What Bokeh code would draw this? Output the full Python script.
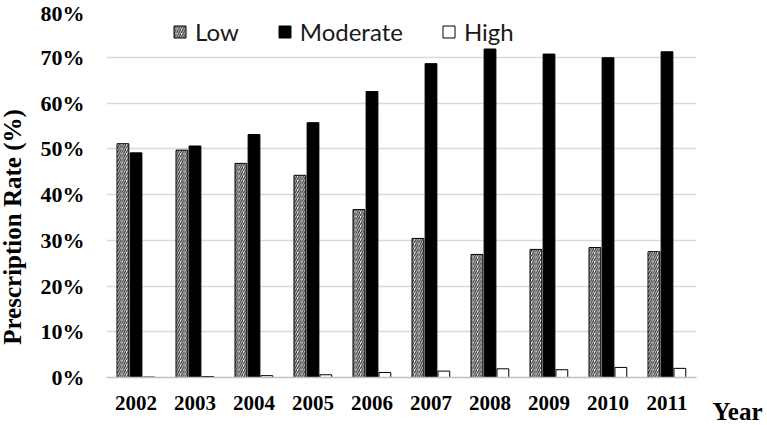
from bokeh.plotting import figure
from bokeh.models import (ColumnDataSource, FactorRange, Legend, LegendItem, Label,
                          PrintfTickFormatter, FixedTicker)
from bokeh.transform import dodge
from bokeh.embed import file_html
from bokeh.resources import INLINE
import math

years = ["2002", "2003", "2004", "2005", "2006", "2007", "2008", "2009", "2010", "2011"]
low = [51.1, 49.7, 46.8, 44.2, 36.7, 30.4, 26.9, 28.0, 28.4, 27.5]
moderate = [49.1, 50.6, 53.1, 55.7, 62.5, 68.6, 71.8, 70.7, 69.9, 71.2]
high = [0.1, 0.2, 0.4, 0.6, 1.1, 1.4, 1.9, 1.7, 2.2, 2.0]
y_ticks = [0, 10, 20, 30, 40, 50, 60, 70, 80]

src = ColumnDataSource(dict(year=years, low=low, moderate=moderate, high=high))

p = figure(x_range=FactorRange(*years, range_padding=0), y_range=(0, 80),
           width=767, height=425, output_backend="svg", toolbar_location=None,
           min_border_left=106, min_border_right=71, min_border_top=11, min_border_bottom=48)
p.outline_line_color = None
p.background_fill_color = "white"

w = 0.2
r_low = p.vbar(x=dodge("year", -0.222, range=p.x_range), top="low", width=w, source=src,
               fill_color="white", hatch_pattern="/", hatch_color="#333333",
               hatch_scale=4.5, hatch_weight=1.3, line_color="black", line_width=1)
r_mod = p.vbar(x=dodge("year", 0.0, range=p.x_range), top="moderate", width=w, source=src,
               fill_color="black", line_color="black", line_width=1)
r_high = p.vbar(x=dodge("year", 0.218, range=p.x_range), top="high", width=w, source=src,
                fill_color="white", line_color="black", line_width=1)

p.xgrid.grid_line_color = None
p.ygrid.grid_line_color = "#d9d9d9"
p.ygrid.grid_line_width = 1.5
p.yaxis.ticker = FixedTicker(ticks=y_ticks)
p.yaxis.formatter = PrintfTickFormatter(format="%d%%")

for ax in (p.xaxis, p.yaxis):
    ax.major_tick_line_color = None
    ax.minor_tick_line_color = None
    ax.major_tick_out = 0
    ax.major_tick_in = 0
    ax.major_label_text_font = "Liberation Serif"
    ax.major_label_text_font_style = "bold"
    ax.major_label_text_color = "black"

p.yaxis.axis_line_color = None
p.yaxis.major_label_text_font_size = "22px"
p.yaxis.major_label_standoff = 22
p.xaxis.axis_line_color = "#c0c0c0"
p.xaxis.axis_line_width = 1.5
p.xaxis.major_label_text_font_size = "21px"
p.xaxis.major_label_standoff = 18

# axis titles placed in the side panels (not clipped to the frame)
p.add_layout(Label(x=2, y=150.5, x_units="screen", y_units="screen",
                   text="Prescription Rate (%)", angle=math.pi / 2,
                   text_align="center", text_baseline="middle",
                   text_font="Liberation Serif", text_font_style="bold",
                   text_font_size="25px", text_color="black"), "left")
p.add_layout(Label(x=16, y=-33.5, x_units="screen", y_units="screen",
                   text="Year", text_align="left", text_baseline="alphabetic",
                   text_font="Liberation Serif", text_font_style="bold",
                   text_font_size="25px", text_color="black"), "right")

legend = Legend(items=[LegendItem(label="Low", renderers=[r_low]),
                       LegendItem(label="Moderate", renderers=[r_mod]),
                       LegendItem(label="High", renderers=[r_high])],
                orientation="horizontal", location=(66, 331),
                padding=0, margin=0, spacing=38, label_standoff=8,
                glyph_width=15, glyph_height=15,
                label_text_font="Lato", label_text_font_size="24px",
                label_text_color="#1a1a1a", label_text_baseline="middle",
                border_line_color=None, background_fill_alpha=0)
p.add_layout(legend)

open("out.html", "w").write(file_html(p, INLINE))
